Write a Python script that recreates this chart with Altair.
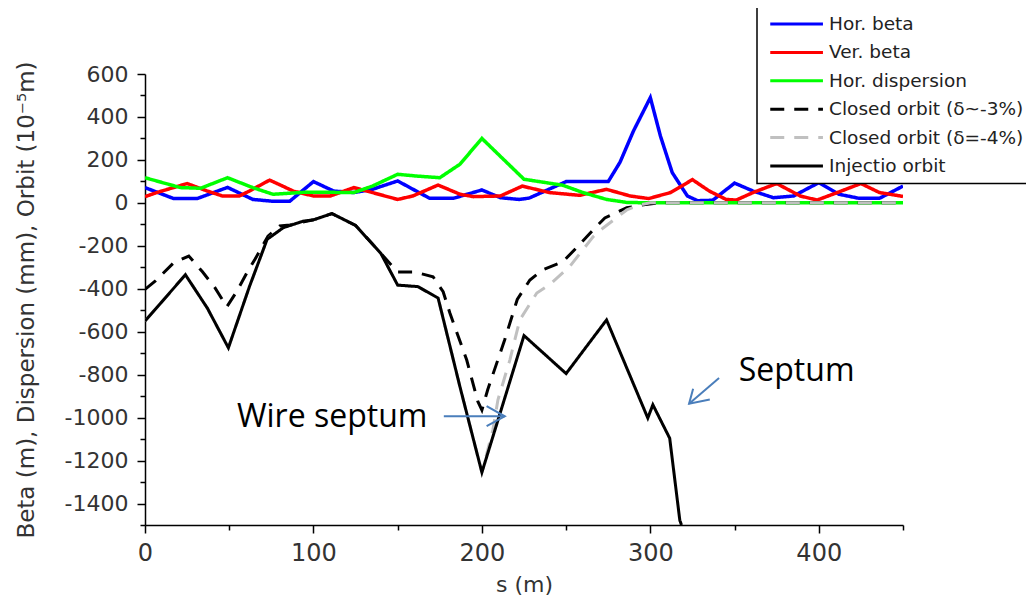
import altair as alt
import pandas as pd

# ---------------- data ----------------
series_names = ["Hor. beta", "Ver. beta", "Hor. dispersion",
                "Closed orbit (δ~-3%)", "Closed orbit (δ=-4%)", "Injectio orbit"]
series_colors = ["#0000ff", "#ff0000", "#00ff00", "#000000", "#c0c0c0", "#000000"]
series_dash = [[1, 0], [1, 0], [1, 0], [14, 10], [14, 10], [1, 0]]
series_width = [3.5, 3.5, 3.5, 3, 3, 3]

hb_s = [0, 17, 31, 49, 64, 75, 86, 100, 112, 124, 135, 150, 169, 183, 200, 211, 222, 228,
        250, 275, 282, 290, 300, 306, 313, 322, 328, 337, 350, 361, 373, 385, 400, 412, 424, 436, 450]
hb_v = [71, 20, 20, 72, 16, 8, 8, 99, 55, 48, 63, 102, 21, 21, 60, 24, 16, 22,
        99, 99, 189, 335, 490, 311, 141, 32, 10, 12, 92, 55, 24, 32, 94, 40, 21, 21, 78]

vb_s = [0, 7, 25, 37, 46, 56, 62, 74, 88, 100, 110, 124, 135, 150, 159, 174, 187, 195, 211,
        224, 240, 258, 274, 288, 299, 312, 325, 335, 345, 351, 361, 375, 389, 399, 411, 425, 436, 450]
vb_v = [29, 48, 90, 55, 32, 32, 55, 106, 55, 32, 32, 71, 48, 16, 32, 83, 40, 29, 32,
        78, 48, 35, 63, 32, 20, 48, 108, 55, 16, 13, 48, 90, 32, 13, 48, 90, 48, 30]

hd_s = [0, 21, 33, 49, 64, 76, 96, 124, 135, 150, 161, 175, 187, 200, 225, 248, 260, 274, 286, 300, 450]
hd_v = [117, 71, 68, 117, 71, 40, 50, 48, 78, 133, 125, 117, 180, 300, 110, 82, 48, 16, 2, 0, 0]

co3_s = [0, 6, 17, 26, 34, 41.5, 48.6, 54.6, 60.5, 65.3, 73, 80, 86, 100, 111, 125, 140, 150, 160,
         171, 177, 181, 191, 197.6, 200, 203.5, 213.6, 221, 228.5, 236, 248, 256, 266, 273, 286, 296, 305, 450]
co3_v = [-403, -365, -279, -248, -320, -395, -484, -411, -325, -263, -155, -108, -103, -79, -50, -105, -235, -322, -322,
         -344, -414, -513, -732, -925, -965, -869, -636, -450, -359, -312, -275, -210, -126, -70, -23, -9, 0, 0]

co4_s = [0, 24, 37, 49.5, 62, 72.5, 82, 94, 100, 111, 125, 140, 150, 162, 174, 187, 200,
         206.5, 209.5, 216.6, 222.5, 232.6, 240, 252, 266, 272, 286, 294, 300, 450]
co4_v = [-550, -335, -490, -675, -390, -170, -116, -85, -79, -50, -105, -235, -383, -390, -443, -857, -1255,
         -1058, -918, -732, -545, -420, -382, -298, -158, -117, -33, -9, 0, 0]

inj_s = [0, 24, 37, 49.5, 62, 72.5, 82, 94, 100, 111, 125, 140, 150, 162, 174, 187, 200,
         225, 250, 274, 298.5, 301.5, 311.5, 317.5, 318.5]
inj_v = [-550, -335, -490, -675, -390, -170, -116, -85, -79, -50, -105, -235, -383, -390, -443, -857, -1255,
         -618, -795, -545, -1002, -940, -1096, -1478, -1500]

# annotations (data coordinates)
ann_text = ["Wire septum", "Septum"]
ann_s = [54.6, 352.5]
ann_v = [-1042, -828]

arrow_seg = ["w_shaft", "w_shaft", "w_head", "w_head", "w_head",
             "s_shaft", "s_shaft", "s_head", "s_head", "s_head"]
arrow_s = [177.4, 213.6, 202.8, 213.6, 202.8, 340.8, 323.0, 325.4, 323.0, 335.3]
arrow_v = [-994, -994, -947, -994, -1040, -815, -935, -866, -935, -916]

x_ticks = list(range(0, 451, 50))
y_ticks = list(range(-1500, 601, 100))

# ---------------- build tables ----------------
all_s = [hb_s, vb_s, hd_s, co3_s, co4_s, inj_s]
all_v = [hb_v, vb_v, hd_v, co3_v, co4_v, inj_v]
rows = []
for name, ss, vv in zip(series_names, all_s, all_v):
    for i, (a, b) in enumerate(zip(ss, vv)):
        rows.append({"series": name, "s": a, "v": b, "ord": i})
df = pd.DataFrame(rows)

ann_df = pd.DataFrame({"label": ann_text, "s": ann_s, "v": ann_v})
arr_df = pd.DataFrame({"seg": arrow_seg, "s": arrow_s, "v": arrow_v, "ord": list(range(len(arrow_s)))})

FONT = "DejaVu Sans"

X = alt.X("s:Q", title="s (m)",
          scale=alt.Scale(domain=[0, 450], nice=False, zero=False),
          axis=alt.Axis(values=x_ticks,
                        labelExpr="datum.value % 100 === 0 ? toString(datum.value) : ''",
                        tickSize={"condition": {"test": "datum.value % 100 === 0", "value": 8}, "value": 5},
                        labelPadding=8, labelFlush=False, labelOverlap=False,
                        labelFont=FONT, labelFontSize=24, labelColor="#333333",
                        titleFont=FONT, titleFontSize=22, titleFontWeight="normal",
                        titleColor="#333333", titlePadding=9,
                        domainColor="black", domainWidth=1.5, tickColor="black", tickWidth=1.5,
                        grid=False))
Y = alt.Y("v:Q", title="Beta (m), Dispersion (mm), Orbit (10⁻⁵m)",
          scale=alt.Scale(domain=[-1500, 600], nice=False, zero=False),
          axis=alt.Axis(values=y_ticks,
                        labelExpr="datum.value % 200 === 0 ? toString(datum.value) : ''",
                        tickSize={"condition": {"test": "datum.value % 200 === 0", "value": 8}, "value": 5},
                        labelPadding=9, labelFlush=False, labelOverlap=False,
                        labelFont=FONT, labelFontSize=22, labelColor="#333333",
                        titleFont=FONT, titleFontSize=23, titleFontWeight="normal",
                        titleColor="#333333", titlePadding=26,
                        domainColor="black", domainWidth=1.5, tickColor="black", tickWidth=1.5,
                        grid=False))

legend = alt.Legend(title=None, orient="none", legendX=612, legendY=-67.5,
                    symbolType="M-0.5,0H5.7", symbolSize=289, symbolStrokeWidth=3,
                    labelFont=FONT, labelFontSize=18.5, labelColor="#222222",
                    labelOffset=44.5, labelLimit=400, rowPadding=8.4, padding=7.5,
                    strokeColor="black", fillColor="white", cornerRadius=0)

color = alt.Color("series:N", scale=alt.Scale(domain=series_names, range=series_colors), legend=legend)
dash = alt.StrokeDash("series:N", scale=alt.Scale(domain=series_names, range=series_dash), legend=legend)

layers = []
for name, w in zip(series_names, series_width):
    layers.append(
        alt.Chart(df)
        .transform_filter(alt.FieldEqualPredicate(field="series", equal=name))
        .mark_line(clip=True, strokeWidth=w)
        .encode(x=X, y=Y, color=color, strokeDash=dash, order="ord:Q")
    )

arrows = alt.Chart(arr_df).mark_line(color="#4a7ebb", strokeWidth=2).encode(
    x=X, y=Y, detail="seg:N", order="ord:Q")
texts = alt.Chart(ann_df).mark_text(font="Open Sans", fontSize=32, align="left",
                                    baseline="alphabetic", color="black").encode(
    x=X, y=Y, text="label:N")

chart = alt.layer(*layers, arrows, texts).properties(
    width=758, height=451,
    autosize=alt.AutoSizeParams(type="none"),
    padding={"left": 137, "top": 66, "right": 123, "bottom": 71},
).configure_view(stroke=None).configure_legend(strokeWidth=1.5)

chart.save("out.html", embed_options={"renderer": "svg", "actions": False})
